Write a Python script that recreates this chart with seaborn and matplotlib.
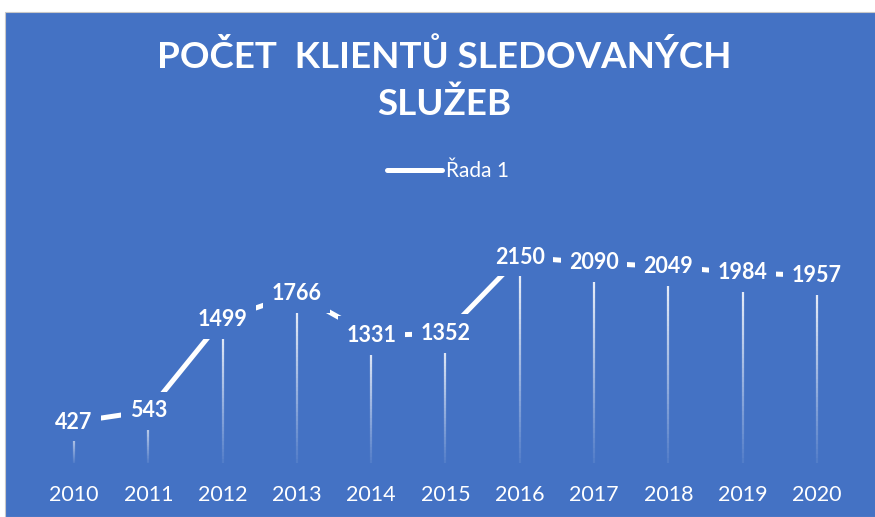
import matplotlib
matplotlib.use("Agg")
import matplotlib.pyplot as plt
import seaborn as sns
import numpy as np
import pandas as pd
from matplotlib.collections import LineCollection
from matplotlib.patches import Rectangle
from matplotlib.lines import Line2D

years = ["2010", "2011", "2012", "2013", "2014", "2015", "2016", "2017", "2018", "2019", "2020"]
values = [427, 543, 1499, 1766, 1331, 1352, 2150, 2090, 2049, 1984, 1957]
series_name = "Řada 1"
title = "POČET  KLIENTŮ SLEDOVANÝCH\nSLUŽEB"

BLUE = "#4472C4"
sns.set_theme(style="white")
plt.rcParams["font.family"] = ["Lato", "DejaVu Sans"]

df = pd.DataFrame({"year": years, "value": values})
df["pos"] = np.arange(len(years))

fig = plt.figure(figsize=(8.75, 5.17), dpi=100, facecolor="white")
W, H = 875, 517
fig.patches.append(Rectangle((5 / W, 0), 1, 1 - 12 / H, transform=fig.transFigure,
                             facecolor=BLUE, edgecolor="#C8C8C8", linewidth=0.8, zorder=-5))

ax = fig.add_axes([36.85 / W, (517 - 463) / H, (854 - 36.85) / W, 239.5 / H])
ax.set_facecolor("none")
ax.set_zorder(2)

sns.lineplot(data=df, x="pos", y="value", ax=ax, color="white", linewidth=3.6,
             legend=False, zorder=3)

# fading drop lines
n = 40
for x, v in zip(df["pos"], df["value"]):
    ys = np.linspace(v, 0, n + 1)
    segs = [[(x, ys[i]), (x, ys[i + 1])] for i in range(n)]
    alphas = np.linspace(0.95, 0.08, n)
    cols = [(1, 1, 1, a) for a in alphas]
    ax.add_collection(LineCollection(segs, colors=cols, linewidths=1.6, zorder=2))

for x, v in zip(df["pos"], df["value"]):
    ax.text(x, v, f"{v}", ha="center", va="center", color="white", fontsize=15.5,
            fontweight="bold", zorder=5,
            bbox=dict(boxstyle="square,pad=0.4", facecolor=BLUE, edgecolor="none"))

ax.set_xlim(-0.5, len(years) - 0.5)
ax.set_ylim(0, 2500)
ax.set_xticks(df["pos"])
ax.set_xticklabels(years, color="white", fontsize=15.5)
ax.tick_params(axis="x", length=0, pad=16)
ax.set_yticks([])
ax.set_xlabel("")
ax.set_ylabel("")
for s in ax.spines.values():
    s.set_visible(False)

fig.text(444 / W, 1 - 80 / H, title, ha="center", va="center", color="white",
         fontsize=26.5, fontweight="bold", linespacing=1.5, zorder=5)

handle = Line2D([0], [0], color="white", linewidth=3.6, solid_capstyle="round")
leg = fig.legend([handle], [series_name], loc="center", bbox_to_anchor=(448 / W, 1 - 171 / H),
                 frameon=False, fontsize=15, handlelength=2.6, handletextpad=0.2)
leg.set_zorder(5)
for t in leg.get_texts():
    t.set_color("white")

fig.savefig("out.png", dpi=100, facecolor="white")
